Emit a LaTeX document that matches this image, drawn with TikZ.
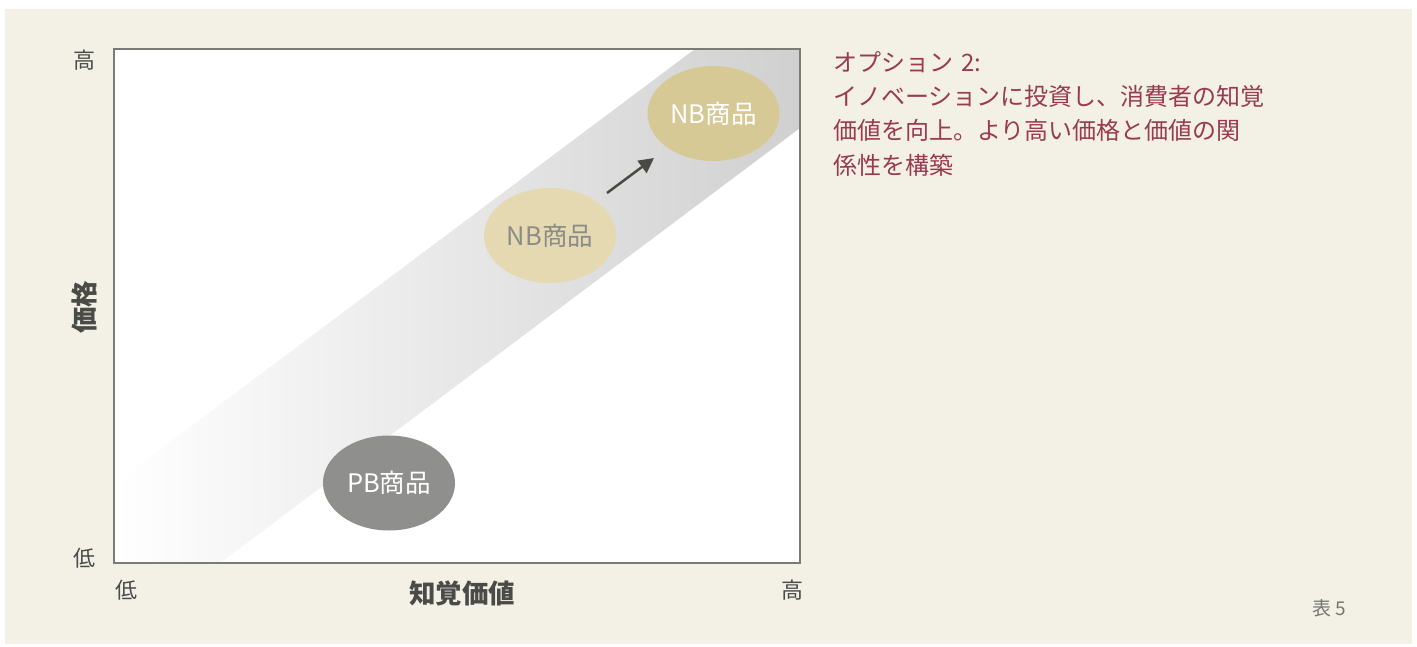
\documentclass[tikz,border=0pt]{standalone}
\usepackage{fontspec}
\setmainfont{Noto Sans CJK JP}
\definecolor{bgc}{HTML}{F3F1E6}
\definecolor{framec}{HTML}{7A7A76}
\definecolor{axisc}{HTML}{4A4A46}
\definecolor{redc}{HTML}{9A3A50}
\definecolor{pbc}{HTML}{8F908D}
\definecolor{nblow}{HTML}{E4D9B1}
\definecolor{nbhigh}{HTML}{D7C996}
\definecolor{nbtext}{HTML}{8B8C88}
\definecolor{bandc}{HTML}{D0D0D0}
\definecolor{arrowc}{HTML}{4A4A44}
\definecolor{figc}{HTML}{77776F}
\tikzset{
  prod/.style={ellipse, minimum width=132pt, minimum height=95pt, inner sep=0pt, font=\fontsize{25.5}{27}\selectfont},
  axlab/.style={text=axisc, font=\fontsize{22}{24}\selectfont, inner sep=0pt},
  axtitle/.style={text=axisc, font=\fontsize{26.5}{28}\selectfont\bfseries, inner sep=0pt},
}
\usetikzlibrary{shapes.geometric,arrows.meta}
\begin{document}
\begin{tikzpicture}[x=1pt,y=-1pt]
\useasboundingbox (0,0) rectangle (1417,646);
\fill[white] (0,0) rectangle (1417,646);
\fill[bgc] (5,9) rectangle (1412,644);
% frame
\fill[white] (114,49) rectangle (800,563);
\shade[left color=white, right color=bandc]
  (114,484) -- (114,563) -- (220,563) -- (800,128) -- (800,49) -- (695,49) -- cycle;
\draw[framec, line width=1.5pt] (114,49) rectangle (800,563);
% ellipses
\node[prod, fill=pbc, text=white] (pb) at (389,483) {PB商品};
\node[prod, fill=nblow, text=nbtext] (nb1) at (550,235.5) {NB商品};
\node[prod, fill=nbhigh, text=white] (nb2) at (713.5,113.5) {NB商品};
\coordinate (a1) at (607,193);
\coordinate (a2) at (654,158);
\draw[arrowc, line width=2.5pt, -{Triangle[length=15pt,width=15pt]}] (a1) -- (a2);
% axis labels
\node[axlab] (yhigh) at (84,60) {高};
\node[axlab] (ylow) at (84,558) {低};
\node[axlab] (xlow) at (126,590) {低};
\node[axlab] (xhigh) at (792,590) {高};
\node[axtitle] (xt) at (462,593) {知覚価値};
\node[axtitle, rotate=90] (yt) at (84,307) {価格};
% right text
\node[anchor=north west, inner sep=0pt, align=left, text=redc, font=\fontsize{24}{34.3}\selectfont] (opt) at (833,51)
  {オプション\,\,2:\\イノベーションに投資し、消費者の知覚\\価値を向上。より高い価格と価値の関\\係性を構築};
\node[text=figc, font=\fontsize{19}{20}\selectfont, inner sep=0pt] (fig) at (1329,608) {表 5};
\end{tikzpicture}
\end{document}
